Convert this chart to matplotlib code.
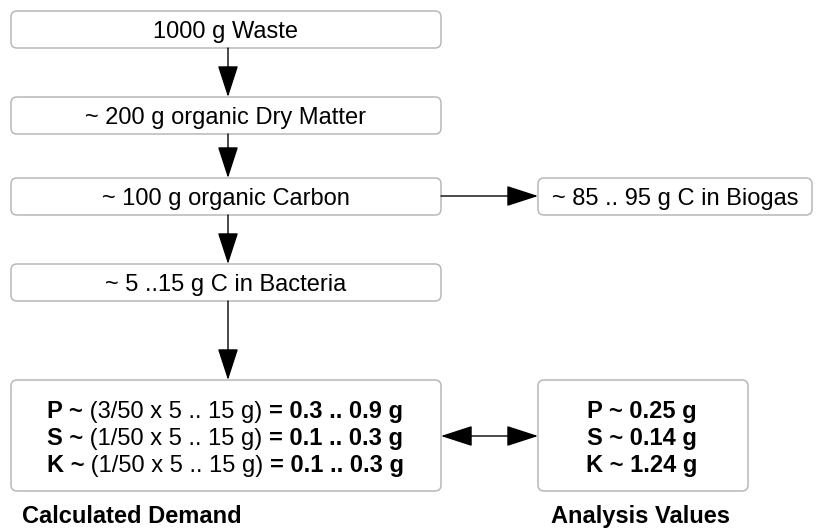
import matplotlib.pyplot as plt
from matplotlib.patches import FancyBboxPatch, FancyArrowPatch

plt.rcParams['font.family'] = ['Liberation Sans', 'DejaVu Sans']

# flow box texts
box_labels = ['1000 g Waste', '~ 200 g organic Dry Matter', '~ 100 g organic Carbon',
              '~ 5 ..15 g C in Bacteria', '~ 85 .. 95 g C in Biogas']
demand_elem = ['P ~', 'S ~', 'K ~']
demand_calc = [' (3/50 x 5 .. 15 g) ', ' (1/50 x 5 .. 15 g) ', ' (1/50 x 5 .. 15 g) ']
demand_res = ['= 0.3 .. 0.9 g', '= 0.1 .. 0.3 g', '= 0.1 .. 0.3 g']
analysis = ['P ~ 0.25 g', 'S ~ 0.14 g', 'K ~ 1.24 g']
captions = ['Calculated Demand', 'Analysis Values']

fs = 17
W, H = 823, 529
fig = plt.figure(figsize=(W / 100, H / 100), dpi=100)
ax = fig.add_axes([0, 0, 1, 1])
ax.set_xlim(0, W)
ax.set_ylim(H, 0)
ax.axis('off')

def box(x, y, w, h):
    p = FancyBboxPatch((x, y), w, h, boxstyle='round,pad=0,rounding_size=6',
                       fc='white', ec='#b8b8b8', lw=1.1)
    ax.add_patch(p)

def arrow(p0, p1, style='-|>'):
    a = FancyArrowPatch(p0, p1, arrowstyle=style + ',head_length=2.0,head_width=0.65',
                        mutation_scale=10, color='black', lw=1.0,
                        shrinkA=0, shrinkB=0)
    ax.add_patch(a)

tops = [11, 97, 178, 264]
for top, lab in zip(tops, box_labels[:4]):
    box(11, top, 430, 37)
    ax.text(226, top + 27, lab, fontsize=fs, ha='center', va='baseline')

box(538, 178, 274, 37)
ax.text(675, 178 + 27, box_labels[4], fontsize=fs, ha='center', va='baseline')

arrow((228, 48), (228, 97))
arrow((228, 134), (228, 178))
arrow((228, 215), (228, 264))
arrow((228, 301), (228, 380))
arrow((441, 196), (538, 196))
arrow((441, 436), (538, 436), style='<|-|>')

# demand / analysis boxes
box(11, 380, 430, 111)
box(538, 380, 210, 111)

for i in range(3):
    y = 418 + i * 27
    t1 = ax.text(47, y, demand_elem[i], fontsize=fs, fontweight='bold', va='baseline')
    t2 = ax.annotate(demand_calc[i], xy=(1, 0), xycoords=t1, va='bottom', fontsize=fs)
    ax.annotate(demand_res[i], xy=(1, 0), xycoords=t2, va='bottom', fontsize=fs,
                fontweight='bold')
    ax.text(642, y, analysis[i], fontsize=fs, fontweight='bold', ha='center', va='baseline')

ax.text(22, 523, captions[0], fontsize=fs, fontweight='bold', va='baseline')
ax.text(641, 523, captions[1], fontsize=fs, fontweight='bold', ha='center', va='baseline')

fig.savefig('out.png', dpi=100, facecolor='white')
